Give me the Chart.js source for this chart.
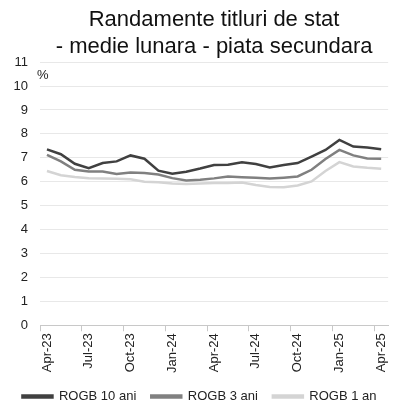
<!DOCTYPE html>
<html>
<head>
<meta charset="utf-8">
<script src="https://cdn.jsdelivr.net/npm/chart.js@4.4.1/dist/chart.umd.min.js"></script>
<style>
  html, body { margin: 0; padding: 0; background: #fff; }
  #wrap { width: 399px; height: 409px; position: relative; }
</style>
</head>
<body>
<div id="wrap"><canvas id="c"></canvas></div>
<script>
// monthly averages, Apr-23 .. Apr-25
const months = ['Apr-23','May-23','Jun-23','Jul-23','Aug-23','Sep-23','Oct-23','Nov-23','Dec-23',
                'Jan-24','Feb-24','Mar-24','Apr-24','May-24','Jun-24','Jul-24','Aug-24','Sep-24',
                'Oct-24','Nov-24','Dec-24','Jan-25','Feb-25','Mar-25','Apr-25'];
const rogb10 = [7.35, 7.15, 6.75, 6.57, 6.78, 6.85, 7.10, 6.96, 6.46, 6.33, 6.42, 6.55, 6.70,
                6.71, 6.81, 6.74, 6.60, 6.70, 6.78, 7.05, 7.33, 7.75, 7.47, 7.43, 7.36];
const rogb3  = [7.12, 6.85, 6.50, 6.43, 6.43, 6.32, 6.39, 6.36, 6.30, 6.15, 6.05, 6.08, 6.14,
                6.22, 6.19, 6.17, 6.13, 6.17, 6.22, 6.50, 6.95, 7.33, 7.10, 6.97, 6.96];
const rogb1  = [6.45, 6.27, 6.20, 6.15, 6.13, 6.12, 6.10, 6.00, 5.98, 5.93, 5.90, 5.93, 5.95,
                5.95, 5.97, 5.86, 5.78, 5.77, 5.84, 6.01, 6.45, 6.82, 6.64, 6.58, 6.54];
const seriesNames = ['ROGB 10 ani', 'ROGB 3 ani', 'ROGB 1 an'];
const titleLines = ['Randamente titluri de stat', '- medie lunara - piata secundara'];
const unitLabel = '%';

const FONT = '"Liberation Sans", Arial, sans-serif';
const colors = ['#404040', '#808080', '#d4d4d4'];

// "%" in the top-left corner of the plot
const unitPlugin = {
    id: 'unit',
    afterDraw(chart) {
        const { ctx, chartArea } = chart;
        ctx.save();
        ctx.font = '13px ' + FONT;
        ctx.fillStyle = '#222';
        ctx.textAlign = 'left';
        ctx.textBaseline = 'middle';
        ctx.fillText(unitLabel, chartArea.left - 3, chartArea.top + 13);
        ctx.restore();
    }
};

const mk = (i, data) => ({
    label: seriesNames[i], data,
    borderColor: colors[i], backgroundColor: colors[i],
    borderWidth: 2.5, pointRadius: 0, tension: 0, fill: false
});

new Chart(document.getElementById('c'), {
    type: 'line',
    data: { labels: months, datasets: [mk(0, rogb10), mk(1, rogb3), mk(2, rogb1)] },
    options: {
        responsive: true, maintainAspectRatio: false, animation: false,
        layout: { padding: 0 },
        scales: {
            x: {
                offset: true,
                grid: {
                    offset: true, drawOnChartArea: false, tickLength: 6,
                    color: c => (c.index % 3 === 0 ? '#c8c8c8' : 'rgba(0,0,0,0)')
                },
                border: { display: true, color: '#c8c8c8', width: 1 },
                ticks: {
                    autoSkip: false, minRotation: 90, maxRotation: 90, padding: 2,
                    color: '#222', font: { family: FONT, size: 13 },
                    callback: (v, i) => (i % 3 === 0 ? months[i] : '')
                }
            },
            y: {
                min: 0, max: 11,
                afterFit: s => { s.width = 40; },
                grid: { color: '#e8e8e8', drawTicks: false },
                border: { display: false },
                ticks: { stepSize: 1, padding: 12, color: '#222', font: { family: FONT, size: 13 } }
            },
            // empty strip on the right of the plot
            yRight: {
                type: 'linear', position: 'right', display: true,
                afterFit: s => { s.width = 10; },
                grid: { display: false }, border: { display: false }, ticks: { display: false }
            }
        },
        plugins: {
            title: {
                display: true, text: titleLines, fullSize: false,
                color: '#111', font: { family: FONT, size: 22, weight: 'normal', lineHeight: 1.23 },
                padding: { top: 6, bottom: 2 }
            },
            legend: {
                position: 'bottom', maxHeight: 34,
                labels: { boxWidth: 30, boxHeight: 2, padding: 15, color: '#222', font: { family: FONT, size: 13 } }
            },
            tooltip: { enabled: false }
        }
    },
    plugins: [unitPlugin]
});
</script>
</body>
</html>
